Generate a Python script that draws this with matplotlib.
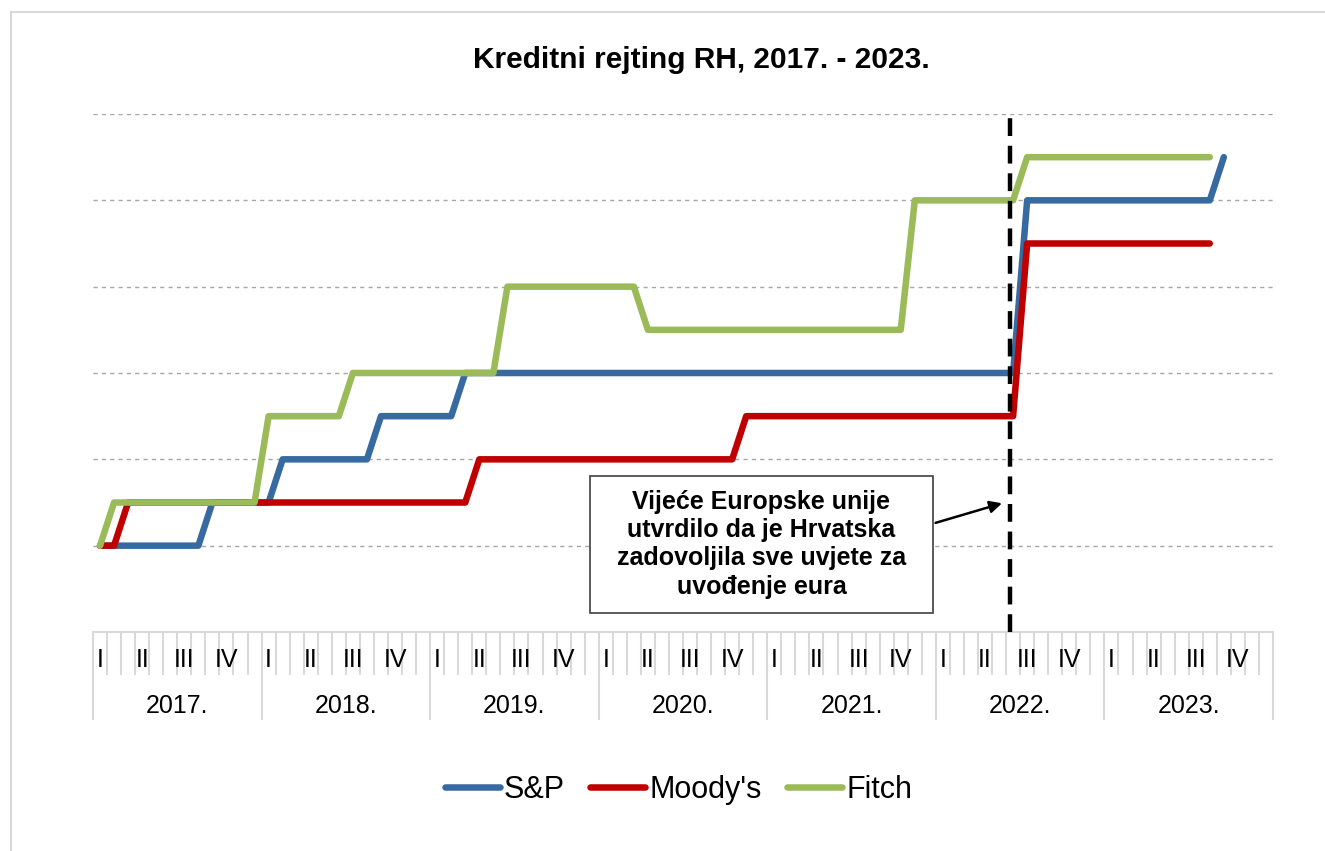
import numpy as np
import matplotlib
matplotlib.use("Agg")
import matplotlib.pyplot as plt
from matplotlib.lines import Line2D
from matplotlib.patches import Rectangle
import matplotlib.transforms as mtransforms

plt.rcParams['font.family'] = ['Liberation Sans', 'DejaVu Sans']

YEARS = ["2017.", "2018.", "2019.", "2020.", "2021.", "2022.", "2023."]
QUARTERS = ["I", "II", "III", "IV"]

# mjesečne razine rejtinga (0 = najniža razina na grafu, korak = pola razmaka mreže)
SP = [0, 0, 0, 0, 0, 0, 0, 0,
      1, 1, 1, 1, 1,
      2, 2, 2, 2, 2, 2, 2,
      3, 3, 3, 3, 3, 3,
      4, 4, 4, 4, 4, 4, 4, 4, 4, 4, 4, 4, 4, 4, 4, 4, 4, 4, 4, 4,
      4, 4, 4, 4, 4, 4, 4, 4, 4, 4, 4, 4, 4, 4, 4, 4, 4, 4, 4, 4,
      8, 8, 8, 8, 8, 8, 8, 8, 8, 8, 8, 8, 8, 8,
      9]
MOODYS = [0, 0,
          1, 1, 1, 1, 1, 1, 1, 1, 1, 1, 1, 1, 1, 1, 1, 1, 1, 1, 1, 1, 1, 1, 1, 1, 1,
          2, 2, 2, 2, 2, 2, 2, 2, 2, 2, 2, 2, 2, 2, 2, 2, 2, 2, 2,
          3, 3, 3, 3, 3, 3, 3, 3, 3, 3, 3, 3, 3, 3, 3, 3, 3, 3, 3, 3,
          7, 7, 7, 7, 7, 7, 7, 7, 7, 7, 7, 7, 7, 7]
FITCH = [0,
         1, 1, 1, 1, 1, 1, 1, 1, 1, 1, 1,
         3, 3, 3, 3, 3, 3,
         4, 4, 4, 4, 4, 4, 4, 4, 4, 4, 4,
         6, 6, 6, 6, 6, 6, 6, 6, 6, 6,
         5, 5, 5, 5, 5, 5, 5, 5, 5, 5, 5, 5, 5, 5, 5, 5, 5, 5, 5,
         8, 8, 8, 8, 8, 8, 8, 8,
         9, 9, 9, 9, 9, 9, 9, 9, 9, 9, 9, 9, 9, 9]

EU_DECISION = 64.8  # mjesec odluke Vijeća EU (lipanj/srpanj 2022.)
NOTE = "Vijeće Europske unije\nutvrdilo da je Hrvatska\nzadovoljila sve uvjete za\nuvođenje eura"

BLUE = "#386aa2"
RED = "#c00000"
GREEN = "#9bbb59"
GREY = "#d9d9d9"

n_months = 12 * len(YEARS)

fig = plt.figure(figsize=(13.25, 8.51), dpi=100)
ax = fig.add_axes([93 / 1325, 1 - 632 / 851, 1180 / 1325, 518 / 851])

ax.plot(np.arange(len(SP)), SP, color=BLUE, lw=4.7, solid_capstyle="round",
        solid_joinstyle="round", label="S&P", zorder=3)
ax.plot(np.arange(len(MOODYS)), MOODYS, color=RED, lw=4.7, solid_capstyle="round",
        solid_joinstyle="round", label="Moody's", zorder=4)
ax.plot(np.arange(len(FITCH)), FITCH, color=GREEN, lw=4.7, solid_capstyle="round",
        solid_joinstyle="round", label="Fitch", zorder=5)

ax.set_xlim(-0.5, n_months - 0.5)
ax.set_ylim(-2, 10)

# mreža
for y in range(0, 11, 2):
    ax.axhline(y, color="#a6a6a6", lw=1, ls=(0, (3, 3)), zorder=1)

for s in ["top", "left", "right"]:
    ax.spines[s].set_visible(False)
ax.spines["bottom"].set_color(GREY)
ax.spines["bottom"].set_linewidth(1.5)
ax.set_yticks([])

# kategorijska os: mjeseci i godine
ax.set_xticks(np.arange(0, n_months + 1, 12) - 0.5)
ax.set_xticks(np.arange(0, n_months + 1) - 0.5, minor=True)
ax.set_xticklabels([])
ax.tick_params(axis="x", which="major", length=63, width=1.5, color=GREY, direction="out")
ax.tick_params(axis="x", which="minor", length=31, width=1.5, color=GREY, direction="out")

trans = mtransforms.blended_transform_factory(ax.transData, ax.transAxes)
for i, year in enumerate(YEARS):
    for q, qlab in enumerate(QUARTERS):
        ax.text(12 * i + 3 * q, -0.054, qlab, transform=trans, ha="center", va="center",
                fontsize=18, color="#000000")
    ax.text(12 * i + 5.5, -0.143, year, transform=trans, ha="center", va="center",
            fontsize=18, color="#000000")

# odluka Vijeća EU
ax.plot([EU_DECISION, EU_DECISION], [-2, 10.1], color="black", lw=3.2,
        ls=(0, (4, 2.2)), clip_on=False, zorder=6)
ax.add_patch(Rectangle((34.87, -1.55), 24.42, 3.17, facecolor="white",
                       edgecolor="#404040", lw=1.2, zorder=7))
ax.text(47.08, 0.03, NOTE, ha="center", va="center", fontsize=18, fontweight="bold",
        linespacing=1.22, zorder=8)
ax.annotate("", xy=(64.4, 1.0), xytext=(59.29, 0.51),
            arrowprops=dict(arrowstyle="-|>", color="black", lw=1.8, mutation_scale=18),
            zorder=8)

fig.text(0.529, 1 - 60 / 851, "Kreditni rejting RH, 2017. - 2023.", ha="center", va="center",
         fontsize=21.5, fontweight="bold")

fig.legend(loc="center", bbox_to_anchor=(0.512, 1 - 790 / 851), ncol=3, frameon=False,
           fontsize=22, handlelength=1.8, handletextpad=0.12, columnspacing=0.85)

# okvir slike
fig.add_artist(Line2D([11 / 1325, 1], [1 - 12 / 851, 1 - 12 / 851], color=GREY, lw=1.5))
fig.add_artist(Line2D([11 / 1325, 11 / 1325], [0, 1 - 12 / 851], color=GREY, lw=1.5))

fig.savefig("out.png", dpi=100)
